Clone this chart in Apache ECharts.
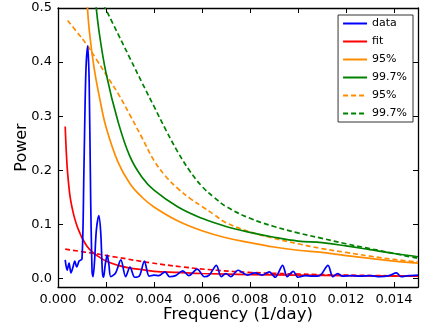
<!DOCTYPE html>
<html><head><meta charset="utf-8">
<script src="https://cdn.jsdelivr.net/npm/echarts@6/dist/echarts.min.js"></script>
<style>html,body{margin:0;padding:0;background:#fff}#c{width:443px;height:322px}</style>
</head><body><div id="c"></div>
<script>
// data (blue periodogram)
const dataFreq  = [0.00030,0.00038,0.00046,0.00054,0.00062,0.00070,0.00078,0.00088,0.00100,0.00108,0.00116,0.00124,0.00130,0.00136,0.00142,0.00146,0.00152,0.00160,0.00170,0.00178,0.00185,0.00190,0.00197,0.00205,0.00212,0.00220,0.00240,0.00262,0.00282,0.00300,0.00320,0.00340,0.00360,0.00380,0.00400,0.00420,0.00446,0.00465,0.00490,0.00520,0.00545,0.00580,0.00610,0.00630,0.00660,0.00680,0.00700,0.00720,0.00750,0.00790,0.00820,0.00850,0.00880,0.00905,0.00936,0.00955,0.00980,0.01000,0.01030,0.01060,0.01090,0.01125,0.01145,0.01165,0.01185,0.01220,0.01260,0.01300,0.01340,0.01380,0.01410,0.01430,0.01460,0.01500];
const dataPower = [0.034,0.015,0.028,0.010,0.020,0.032,0.021,0.032,0.036,0.200,0.380,0.430,0.360,0.150,0.012,0.003,0.030,0.090,0.116,0.085,0.012,0.002,0.026,0.043,0.026,0.003,0.010,0.034,0.003,0.021,0.002,0.005,0.032,0.004,0.006,0.005,0.012,0.003,0.005,0.014,0.005,0.017,0.003,0.006,0.024,0.003,0.009,0.003,0.015,0.006,0.010,0.006,0.012,0.002,0.024,0.003,0.013,0.002,0.005,0.004,0.005,0.024,0.003,0.009,0.004,0.005,0.004,0.005,0.003,0.005,0.010,0.003,0.005,0.006];
// fit (red solid)
const fitFreq  = [0.00030,0.00035,0.00040,0.00050,0.00060,0.00070,0.00080,0.00090,0.00100,0.00120,0.00140,0.00160,0.00200,0.00250,0.00300,0.00350,0.00400,0.00500,0.00600,0.00800,0.01000,0.01200,0.01500];
const fitPower = [0.281,0.230,0.195,0.152,0.128,0.110,0.096,0.085,0.075,0.060,0.050,0.043,0.032,0.024,0.019,0.016,0.013,0.011,0.009,0.007,0.006,0.005,0.004];
// fit (red dashed, no legend entry)
const fit2Freq  = [0.00030,0.00150,0.00245,0.00383,0.00520,0.00660,0.00800,0.01000,0.01200,0.01500];
const fit2Power = [0.054,0.046,0.039,0.029,0.021,0.015,0.011,0.008,0.006,0.004];
// 95% (orange solid)
const c95Freq  = [0.00120,0.00130,0.00150,0.00175,0.00200,0.00250,0.00300,0.00350,0.00400,0.00500,0.00600,0.00700,0.00800,0.00900,0.01000,0.01100,0.01200,0.01300,0.01400,0.01500];
const c95Power = [0.520,0.460,0.390,0.330,0.280,0.215,0.175,0.150,0.132,0.106,0.088,0.075,0.066,0.058,0.052,0.048,0.042,0.037,0.032,0.028];
// 99.7% (green solid)
const c997Freq  = [0.00155,0.00170,0.00200,0.00250,0.00300,0.00350,0.00400,0.00500,0.00600,0.00700,0.00800,0.00900,0.01000,0.01100,0.01200,0.01300,0.01400,0.01500];
const c997Power = [0.520,0.460,0.380,0.290,0.225,0.187,0.163,0.132,0.111,0.096,0.085,0.076,0.069,0.066,0.060,0.053,0.046,0.040];
// 95% (orange dashed)
const d95Freq  = [0.00040,0.00080,0.00120,0.00160,0.00200,0.00250,0.00300,0.00350,0.00400,0.00450,0.00500,0.00550,0.00600,0.00650,0.00700,0.00800,0.00900,0.01000,0.01100,0.01200,0.01300,0.01400,0.01500];
const d95Power = [0.477,0.455,0.432,0.405,0.377,0.342,0.302,0.260,0.218,0.188,0.166,0.148,0.133,0.118,0.103,0.086,0.074,0.064,0.055,0.048,0.041,0.035,0.030];
// 99.7% (green dashed)
const d997Freq  = [0.00190,0.00250,0.00300,0.00350,0.00400,0.00450,0.00500,0.00550,0.00600,0.00650,0.00700,0.00800,0.00900,0.01000,0.01100,0.01200,0.01300,0.01400,0.01500];
const d997Power = [0.506,0.452,0.407,0.362,0.318,0.274,0.233,0.198,0.170,0.150,0.133,0.111,0.096,0.084,0.074,0.064,0.055,0.046,0.037];
// axis ticks
const xTicks = [0.000,0.002,0.004,0.006,0.008,0.010,0.012,0.014];
const yTicks = [0.0,0.1,0.2,0.3,0.4,0.5];

const zip = (a,b)=>a.map((v,i)=>[v,b[i]]);
const FONT = 'DejaVu Sans';
const chart = echarts.init(document.getElementById('c'), null, {renderer:'canvas'});
const lineSeries = (name, f, p, color, dashed, smooth) => ({
  name, type:'line', data: zip(f,p), symbol:'none', smooth: smooth,
  lineStyle:{color, width:1.7, type: dashed ? [5,3] : 'solid'},
  itemStyle:{color}, clip:true, animation:false, xAxisIndex:0, yAxisIndex:0
});
const tickStyle = {show:true, inside:true, length:5, lineStyle:{color:'#000', width:1}};
const axisLine = {show:true, onZero:false, lineStyle:{color:'#000', width:1.3}};
chart.setOption({
  animation:false,
  grid:{left:58, right:25, top:8, bottom:35, outerBoundsMode:'none', containLabel:false},
  legend:{
    show:true, orient:'vertical', right:30, top:15,
    data:['data','fit','95%','99.7%','95% ','99.7% '],
    formatter: n => n.trim(),
    itemWidth:24, itemHeight:10, itemGap:7,
    itemStyle:{opacity:0},
    backgroundColor:'#fff', borderColor:'#333', borderWidth:1, borderRadius:0,
    padding:[3,6,3,4],
    textStyle:{fontFamily:FONT, fontSize:11, color:'#000'}
  },
  xAxis:[
    {type:'value', min:0, max:0.015, position:'bottom', axisLine, splitLine:{show:false},
      name:'Frequency (1/day)', nameLocation:'middle', nameGap:19, nameMoveOverlap:false,
      nameTextStyle:{fontFamily:FONT, fontSize:16.5, color:'#000', verticalAlign:'top'},
      axisTick:Object.assign({customValues:xTicks}, tickStyle),
      axisLabel:{customValues:xTicks, fontFamily:FONT, fontSize:13, color:'#000', margin:6,
        formatter: v => v.toFixed(3)}},
    {type:'value', min:0, max:0.015, position:'top', axisLine, splitLine:{show:false},
      axisTick:Object.assign({customValues:xTicks}, tickStyle),
      axisLabel:{show:false}}
  ],
  yAxis:[
    {type:'value', min:-0.016, max:0.5, position:'left', axisLine, splitLine:{show:false},
      name:'Power', nameLocation:'middle', nameGap:28, nameRotate:90, nameMoveOverlap:false,
      nameTextStyle:{fontFamily:FONT, fontSize:16, color:'#000'},
      axisTick:Object.assign({customValues:yTicks}, tickStyle),
      axisLabel:{customValues:yTicks, fontFamily:FONT, fontSize:13, color:'#000', margin:6,
        formatter: v => v.toFixed(1)}},
    {type:'value', min:-0.016, max:0.5, position:'right', axisLine, splitLine:{show:false},
      axisTick:Object.assign({customValues:yTicks}, tickStyle),
      axisLabel:{show:false}}
  ],
  series:[
    lineSeries('fit ', fit2Freq, fit2Power, '#ff0000', true, 0.4),
    lineSeries('95% ', d95Freq, d95Power, '#ff8c00', true, 0.4),
    lineSeries('99.7% ', d997Freq, d997Power, '#008000', true, 0.4),
    lineSeries('95%', c95Freq, c95Power, '#ff8c00', false, 0.4),
    lineSeries('99.7%', c997Freq, c997Power, '#008000', false, 0.4),
    lineSeries('fit', fitFreq, fitPower, '#ff0000', false, 0.4),
    lineSeries('data', dataFreq, dataPower, '#0000ff', false, 0.3)
  ]
});
</script></body></html>
